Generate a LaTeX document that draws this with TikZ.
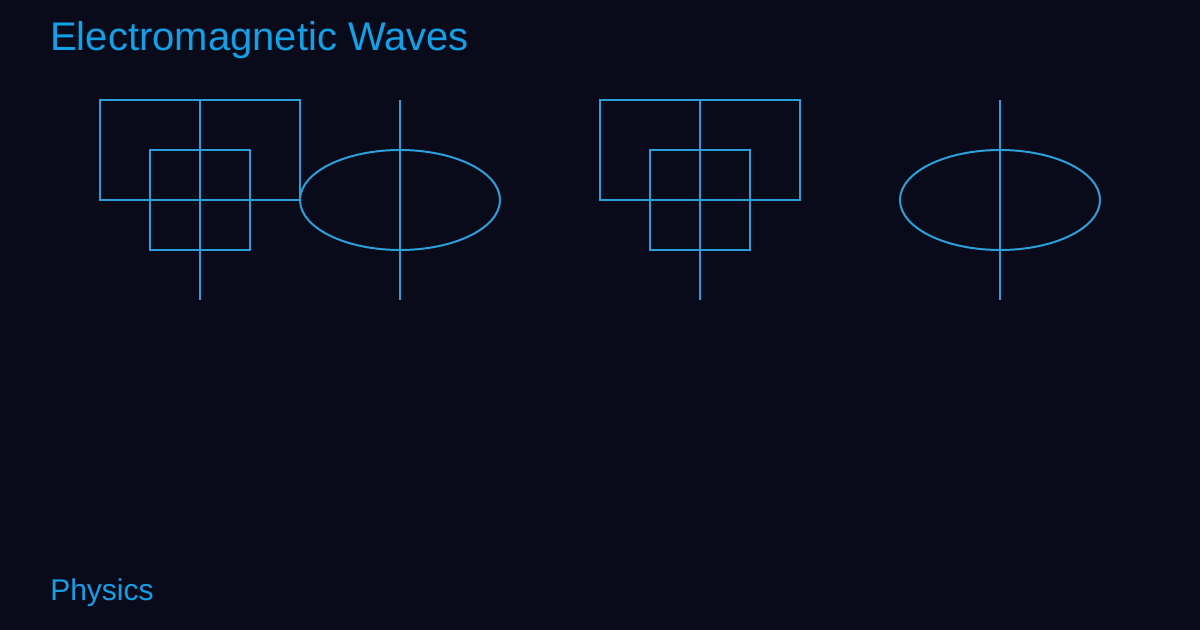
\documentclass[tikz,border=0pt]{standalone}
\usepackage{fontspec}
\setmainfont{Liberation Sans}
\usetikzlibrary{shapes.geometric}
\definecolor{bgc}{HTML}{0A0B1A}
\definecolor{linec}{HTML}{2A9FDA}
\definecolor{txtc}{HTML}{14A0E6}
\tikzset{
  shp/.style={draw=linec, line width=1.5pt, inner sep=0pt, outer sep=0pt},
  bigbox/.style={shp, rectangle, minimum width=150pt, minimum height=75pt},
  smallbox/.style={shp, rectangle, minimum width=75pt, minimum height=75pt},
  oval/.style={shp, ellipse, minimum width=150pt, minimum height=75pt},
  axis/.style={draw=linec, line width=1.5pt},
  ttl/.style={text=txtc, anchor=base west, inner sep=0pt},
}
\begin{document}
\begin{tikzpicture}[x=0.75pt,y=-0.75pt]
\fill[bgc] (0,0) rectangle (1200,630);
\useasboundingbox (0,0) rectangle (1200,630);
\node[ttl, font=\fontsize{30pt}{36pt}\selectfont] (title) at (50,51) {Electromagnetic Waves};
\node[ttl, font=\fontsize{22.5pt}{27pt}\selectfont] (foot) at (50,600) {Physics};
% group 1
\node[bigbox] (r1) at (200,150) {};
\node[smallbox] (s1) at (200,200) {};
\coordinate (t1) at (200,100);
\coordinate (b1) at (200,300);
\draw[axis] (t1) -- (b1);
\node[oval] (e1) at (400,200) {};
\coordinate (t2) at (400,100);
\coordinate (b2) at (400,300);
\draw[axis] (t2) -- (b2);
% group 2
\node[bigbox] (r2) at (700,150) {};
\node[smallbox] (s2) at (700,200) {};
\coordinate (t3) at (700,100);
\coordinate (b3) at (700,300);
\draw[axis] (t3) -- (b3);
\node[oval] (e2) at (1000,200) {};
\coordinate (t4) at (1000,100);
\coordinate (b4) at (1000,300);
\draw[axis] (t4) -- (b4);
\end{tikzpicture}
\end{document}
